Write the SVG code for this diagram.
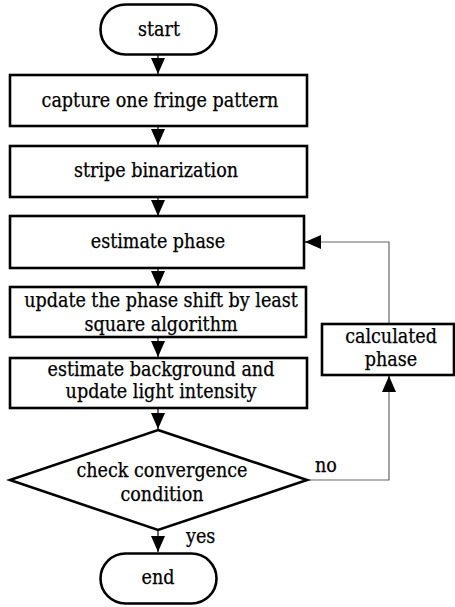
<svg xmlns="http://www.w3.org/2000/svg" width="455" height="607" viewBox="0 0 455 607">
  <style>
    .box { fill: #fff; stroke: #000; stroke-width: 2.6; }
    .lbl, .tag { font-family: "DejaVu Serif", "Liberation Serif", serif; font-stretch: condensed; font-size: 19.5px; fill: #000; stroke: #000; stroke-width: 0.25; }
    .lbl { text-anchor: middle; }
    .flow { fill: none; stroke: #000; stroke-width: 1.2; }
    .loop { fill: none; stroke: #666; stroke-width: 1.2; }
  </style>
  <defs>
    <marker id="head" viewBox="0 0 16 14" refX="16" refY="7" markerWidth="16" markerHeight="14" markerUnits="userSpaceOnUse" orient="auto">
      <path d="M0,0 L16,7 L0,14 Z" fill="#000"/>
    </marker>
  </defs>

  <rect width="455" height="607" fill="#fff"/>

  <g id="connectors">
    <line class="flow" x1="158" y1="55" x2="158" y2="74" marker-end="url(#head)"/>
    <line class="flow" x1="158" y1="126" x2="158" y2="145" marker-end="url(#head)"/>
    <line class="flow" x1="158" y1="197" x2="158" y2="216" marker-end="url(#head)"/>
    <line class="flow" x1="158" y1="268" x2="158" y2="287" marker-end="url(#head)"/>
    <line class="flow" x1="158" y1="337" x2="158" y2="357" marker-end="url(#head)"/>
    <line class="flow" x1="158" y1="409" x2="158" y2="429" marker-end="url(#head)"/>
    <line class="flow" x1="158" y1="531" x2="158" y2="552" marker-end="url(#head)"/>
    <!-- feedback loop: "no" branch back to phase estimation -->
    <polyline class="loop" points="307,480 389,480 389,391"/>
    <line class="flow" x1="389" y1="392" x2="389" y2="376" marker-end="url(#head)"/>
    <polyline class="loop" points="389,324 389,242 320,242"/>
    <line class="flow" x1="321" y1="242" x2="305" y2="242" marker-end="url(#head)"/>
    <text class="tag" x="315" y="472">no</text>
    <text class="tag" x="186" y="543">yes</text>
  </g>

  <g id="start">
    <rect class="box" x="100.5" y="4.5" width="116" height="50" rx="25"/>
    <text class="lbl" x="159" y="36">start</text>
  </g>

  <g id="capture">
    <rect class="box" x="10" y="75" width="297" height="51"/>
    <text class="lbl" x="160" y="107">capture one fringe pattern</text>
  </g>

  <g id="binarize">
    <rect class="box" x="10" y="146" width="297" height="51"/>
    <text class="lbl" x="156" y="177">stripe binarization</text>
  </g>

  <g id="estimate-phase">
    <rect class="box" x="10" y="216" width="294" height="52"/>
    <text class="lbl" x="158" y="248">estimate phase</text>
  </g>

  <g id="update-shift">
    <rect class="box" x="10" y="287" width="296" height="50"/>
    <text class="lbl" x="161" y="307">update the phase shift by least</text>
    <text class="lbl" x="161" y="331">square algorithm</text>
  </g>

  <g id="update-intensity">
    <rect class="box" x="10" y="358" width="297" height="50"/>
    <text class="lbl" x="161" y="376">estimate background and</text>
    <text class="lbl" x="161" y="398">update light intensity</text>
  </g>

  <g id="convergence">
    <polygon class="box" points="158,430 307,480 158,530 10,480"/>
    <text class="lbl" x="162" y="477">check convergence</text>
    <text class="lbl" x="162" y="501">condition</text>
  </g>

  <g id="calculated-phase">
    <rect class="box" x="322" y="324" width="132" height="51"/>
    <text class="lbl" x="391" y="343">calculated</text>
    <text class="lbl" x="391" y="366">phase</text>
  </g>

  <g id="end">
    <rect class="box" x="100.5" y="553.5" width="116" height="50" rx="25"/>
    <text class="lbl" x="158" y="584">end</text>
  </g>
</svg>
